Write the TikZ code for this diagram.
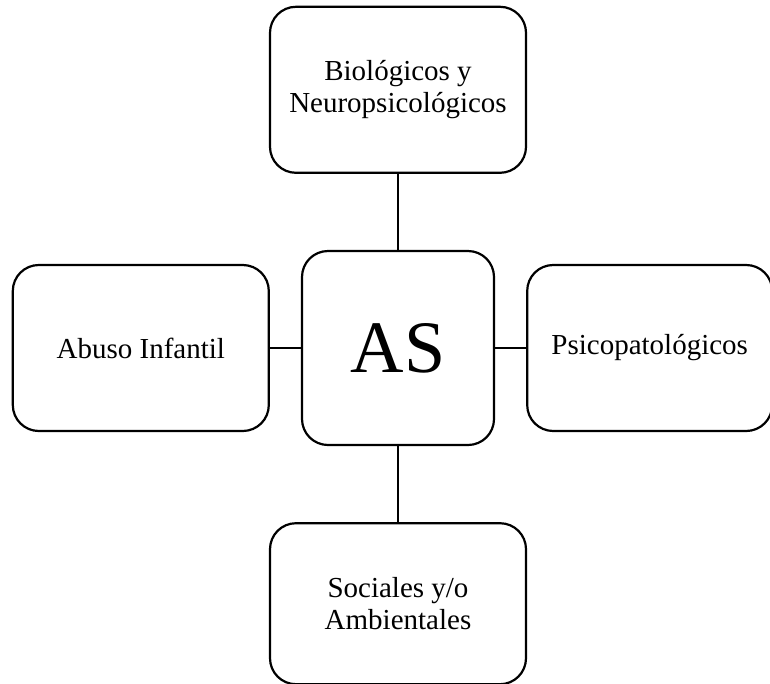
\documentclass[tikz,border=0pt]{standalone}
\usepackage{fontspec}
\setmainfont{Liberation Serif}
\usetikzlibrary{positioning}
\tikzset{
  box/.style={draw, line width=2.2pt, rounded corners=26pt, align=center,
              font=\fontsize{29}{32}\selectfont, inner sep=4pt},
  factor/.style={box, minimum width=256pt, minimum height=166pt},
  hub/.style={box, minimum width=192pt, minimum height=194pt,
              font=\fontsize{74}{80}\selectfont},
  link/.style={line width=2.2pt},
}

\begin{document}
\begin{tikzpicture}[x=1pt, y=-1pt, node distance=76pt and 31pt]
  \useasboundingbox (0,0) rectangle (770,683);
  \node[hub] (as) at (398,348) {AS};
  \node[factor, above=of as] (bio) {Biológicos y\\Neuropsicológicos};
  \node[factor, left=of as] (abuso) {Abuso Infantil};
  \node[factor, minimum width=245pt, right=of as] (psico) {Psicopatológicos};
  \node[factor, minimum height=161pt, below=of as] (social) {Sociales y/o\\Ambientales};
  \draw[link] (bio) -- (as);
  \draw[link] (abuso) -- (as);
  \draw[link] (as) -- (psico);
  \draw[link] (as) -- (social);
\end{tikzpicture}
\end{document}
